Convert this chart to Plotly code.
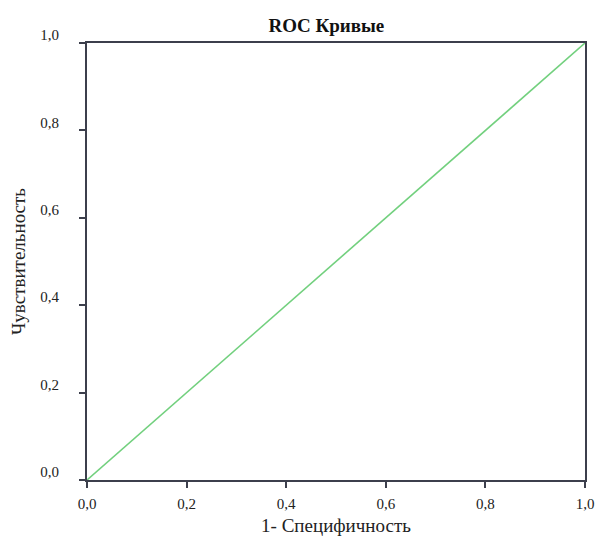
import plotly.graph_objects as go

# ROC curve data: false positive rate vs. true positive rate
fpr = [0.0, 1.0]
tpr = [0.0, 1.0]
tick_vals = [0.0, 0.2, 0.4, 0.6, 0.8, 1.0]
tick_text = ["0,0", "0,2", "0,4", "0,6", "0,8", "1,0"]

serif = "Liberation Serif, serif"
axis_color = "#3c3f4c"

fig = go.Figure()
fig.add_trace(go.Scatter(
    x=fpr, y=tpr, mode="lines",
    line=dict(color="#72d07e", width=1.6),
    showlegend=False, hoverinfo="skip",
))

common = dict(
    range=[0, 1], tickvals=tick_vals, ticktext=tick_text,
    showgrid=False, zeroline=False, automargin=False,
    showline=True, linecolor=axis_color, linewidth=2, mirror=True,
    ticks="outside", ticklen=6, tickwidth=2, tickcolor=axis_color,
    tickfont=dict(family=serif, size=15, color="#222222"),
)

fig.update_xaxes(
    **common,
    title=dict(text="1- Специфичность", font=dict(family=serif, size=19, color="#222222"), standoff=8),
    ticklabelstandoff=3,
)
fig.update_yaxes(
    **common,
    title=dict(text="Чувствительность", font=dict(family=serif, size=19, color="#222222"), standoff=10),
    ticklabelstandoff=17, ticklabelshift=-8,
)

fig.update_layout(
    width=600, height=536,
    margin=dict(l=87, r=15, t=43, b=56),
    paper_bgcolor="white", plot_bgcolor="white",
    title=dict(
        text="<b>ROC Кривые</b>", x=0.544, xanchor="center", y=0.953, yanchor="middle",
        font=dict(family=serif, size=19, color="#111111"),
    ),
)

fig.write_html("out.html")
